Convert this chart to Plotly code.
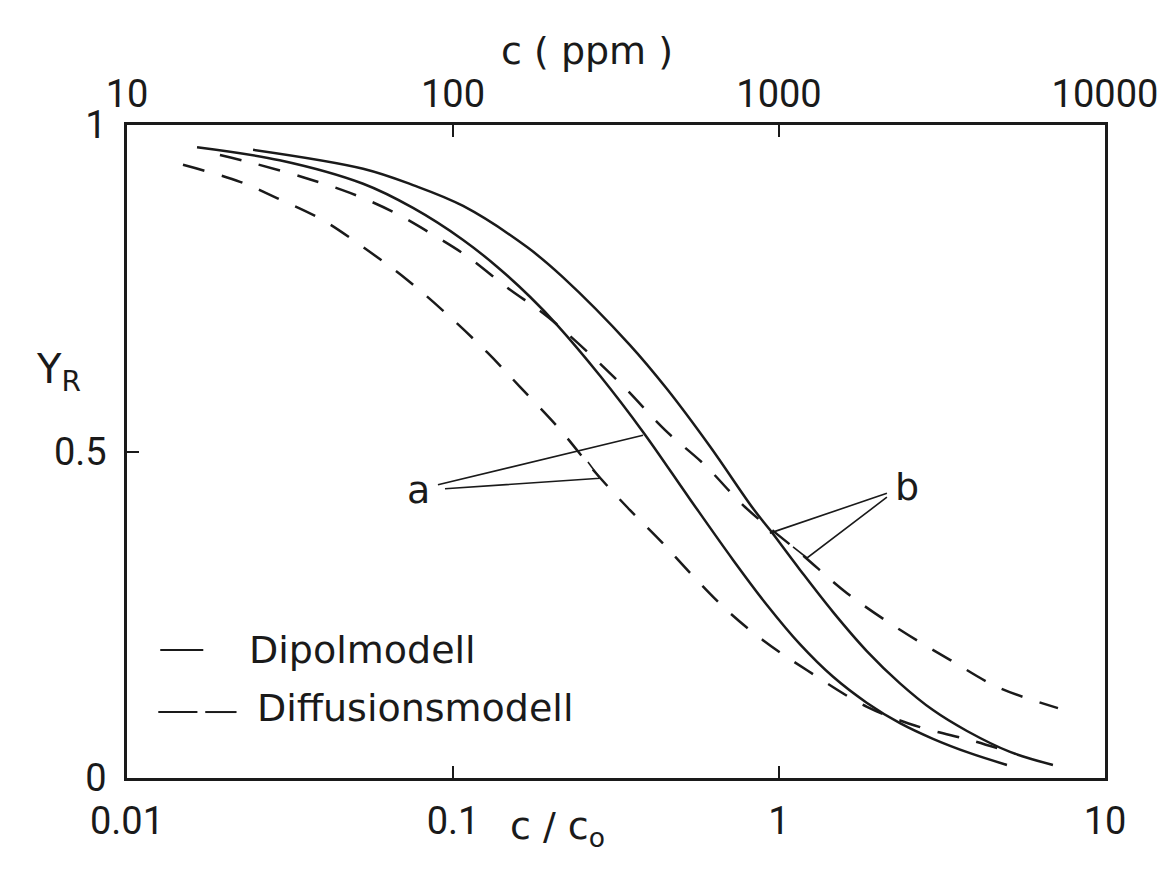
import math
import plotly.graph_objects as go

# ---- data (c/c0 on log axis, Y_R) ----
cc_dipol_a = [0.0164, 0.0294, 0.0530, 0.0754, 0.1074, 0.1365, 0.1722, 0.2084, 0.2825, 0.3828, 0.5333, 0.7228,
              0.9182, 1.159, 1.4655, 1.862, 2.350, 2.967, 3.855, 5.003]
yr_dipol_a = [0.966, 0.946, 0.910, 0.873, 0.824, 0.783, 0.737, 0.694, 0.616, 0.530, 0.427, 0.334,
              0.265, 0.205, 0.155, 0.115, 0.084, 0.060, 0.038, 0.020]

cc_dipol_b = [0.02436, 0.0530, 0.0754, 0.1074, 0.1687, 0.2172, 0.3490, 0.4528, 0.6137, 0.8318, 0.9376, 1.159,
              1.4655, 1.862, 2.350, 2.967, 3.773, 5.113, 6.923]
yr_dipol_b = [0.962, 0.933, 0.908, 0.876, 0.813, 0.767, 0.663, 0.596, 0.508, 0.413, 0.380, 0.319,
              0.254, 0.194, 0.145, 0.104, 0.072, 0.040, 0.020]

cc_diff_a = [0.01485, 0.02222, 0.02884, 0.03965, 0.0530, 0.07227, 0.0979, 0.1272, 0.1605, 0.2160, 0.2688, 0.3418,
             0.4315, 0.5409, 0.6918, 0.8933, 1.219, 1.862, 2.707, 3.937, 5.297]
yr_diff_a = [0.939, 0.913, 0.888, 0.855, 0.813, 0.763, 0.706, 0.652, 0.599, 0.530, 0.472, 0.415,
             0.364, 0.311, 0.257, 0.211, 0.165, 0.109, 0.078, 0.057, 0.037]

cc_diff_b = [0.01928, 0.02417, 0.03467, 0.04831, 0.06546, 0.08683, 0.1112, 0.1475, 0.1956, 0.3253, 0.4466, 0.5929,
             0.7865, 1.159, 1.617, 2.350, 3.345, 4.696, 7.174]
yr_diff_b = [0.954, 0.942, 0.920, 0.896, 0.867, 0.832, 0.798, 0.750, 0.706, 0.605, 0.533, 0.479,
             0.415, 0.345, 0.283, 0.227, 0.181, 0.139, 0.107]

# leader lines for labels a / b
lead_a1_x = [0.0899, 0.3828]
lead_a1_y = [0.449, 0.525]
lead_a2_x = [0.0945, 0.2825, 0.2594]
lead_a2_y = [0.443, 0.459, 0.484]
lead_b1_x = [2.143, 0.9376]
lead_b1_y = [0.436, 0.375]
lead_b2_x = [2.143, 1.219, 1.104]
lead_b2_y = [0.430, 0.337, 0.354]
label_a = (0.0781, 0.441)
label_b = (2.469, 0.446)

x_ticks = [0.01, 0.1, 1, 10]
x_ticktext = ["0.01", "0.1", "1", "10"]
ppm_ticks = [10, 100, 1000, 10000]
ppm_ticktext = ["10", "100", "1000", "10000"]
y_ticks = [0, 0.5, 1]
y_ticktext = ["0", "0.5", "1"]

NUMFONT = "Roboto"
WORDFONT = "DejaVu Sans"
FS = 38
INK = "#1a1a1a"
DASH = "22px,18px"

fig = go.Figure()

for xs, ys, dash in [(cc_dipol_a, yr_dipol_a, "solid"), (cc_dipol_b, yr_dipol_b, "solid"),
                     (cc_diff_a, yr_diff_a, DASH), (cc_diff_b, yr_diff_b, DASH)]:
    fig.add_trace(go.Scatter(x=xs, y=ys, mode="lines",
                             line=dict(color=INK, width=2.5, dash=dash, shape="spline", smoothing=1.0),
                             showlegend=False, hoverinfo="skip"))

for xs, ys in [(lead_a1_x, lead_a1_y), (lead_a2_x, lead_a2_y), (lead_b1_x, lead_b1_y), (lead_b2_x, lead_b2_y)]:
    fig.add_trace(go.Scatter(x=xs, y=ys, mode="lines", line=dict(color=INK, width=1.6),
                             showlegend=False, hoverinfo="skip"))

# invisible trace to activate top (ppm) axis
fig.add_trace(go.Scatter(x=[10, 10000], y=[None, None], xaxis="x2", yaxis="y", mode="lines",
                         showlegend=False, hoverinfo="skip"))

fig.add_annotation(x=math.log10(label_a[0]), y=label_a[1], xref="x", yref="y", text="a", showarrow=False,
                   font=dict(size=FS, color=INK, family=WORDFONT))
fig.add_annotation(x=math.log10(label_b[0]), y=label_b[1], xref="x", yref="y", text="b", showarrow=False,
                   font=dict(size=FS, color=INK, family=WORDFONT))

# legend (drawn manually)
fig.add_shape(type="line", xref="paper", yref="paper", x0=0.034, x1=0.078, y0=0.196, y1=0.196,
              line=dict(color=INK, width=2))
fig.add_shape(type="line", xref="paper", yref="paper", x0=0.032, x1=0.072, y0=0.101, y1=0.101,
              line=dict(color=INK, width=2))
fig.add_shape(type="line", xref="paper", yref="paper", x0=0.080, x1=0.112, y0=0.101, y1=0.101,
              line=dict(color=INK, width=2))
fig.add_annotation(x=0.123, y=0.196, xref="paper", yref="paper", text="Dipolmodell", showarrow=False,
                   xanchor="left", yanchor="middle", font=dict(size=FS, color=INK, family=WORDFONT))
fig.add_annotation(x=0.131, y=0.107, xref="paper", yref="paper", text="Diffusionsmodell", showarrow=False,
                   xanchor="left", yanchor="middle", font=dict(size=FS, color=INK, family=WORDFONT))

# axis titles
fig.add_annotation(x=-0.095, y=0.622, xref="paper", yref="paper", text="Y<sub>R</sub>", showarrow=False,
                   font=dict(size=FS + 2, color=INK, family=WORDFONT))
fig.add_annotation(x=0.47, y=1.15, xref="paper", yref="paper", text="c ( ppm )", showarrow=False,
                   font=dict(size=FS, color=INK, family=WORDFONT))
fig.add_annotation(x=0.44, y=-0.118, xref="paper", yref="paper", text="c / c<sub>o</sub>", showarrow=False,
                   font=dict(size=FS, color=INK, family=WORDFONT))

axis_common = dict(showline=True, linecolor=INK, linewidth=2.5, ticks="inside", ticklen=12, tickwidth=2,
                   tickcolor=INK, showgrid=False, zeroline=False,
                   tickfont=dict(size=FS, color=INK, family=NUMFONT))

fig.update_layout(
    width=1172, height=885,
    margin=dict(l=127, r=67, t=125, b=107),
    paper_bgcolor="white", plot_bgcolor="white",
    font=dict(family=NUMFONT, size=FS, color=INK),
    showlegend=False,
    xaxis=dict(type="log", range=[-2, 1], tickvals=x_ticks, ticktext=x_ticktext, ticklabelstandoff=8, **axis_common),
    xaxis2=dict(type="log", range=[1, 4], overlaying="x", side="top", tickvals=ppm_ticks, ticktext=ppm_ticktext,
                ticklabelstandoff=0, **axis_common),
    yaxis=dict(range=[0, 1], tickvals=y_ticks, ticktext=y_ticktext, mirror=True, ticklabelstandoff=10, **axis_common),
)

fig.write_html("out.html")
